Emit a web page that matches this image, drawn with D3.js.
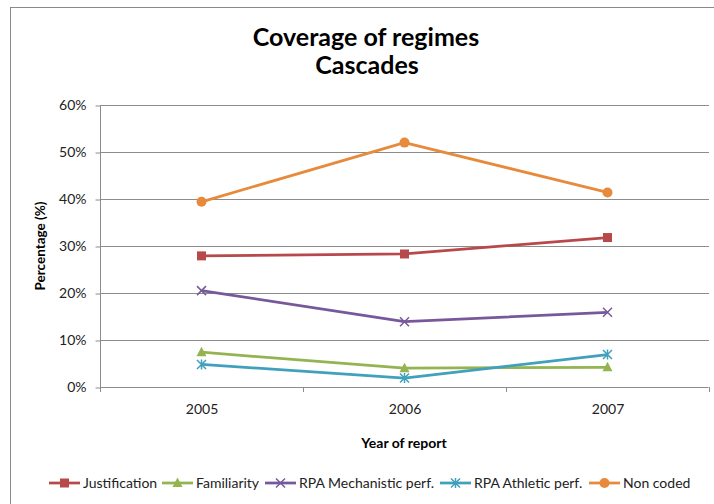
<!DOCTYPE html>
<html>
<head>
<meta charset="utf-8">
<script src="https://cdn.jsdelivr.net/npm/d3@7"></script>
<style>
  body { margin: 0; background: #fff; }
  svg { display: block; font-family: Lato, "Open Sans", sans-serif; }
</style>
</head>
<body>
<div class="canvas"></div>
<script>
const years = ['2005', '2006', '2007'];
const justification = [27.9, 28.3, 31.8];
const familiarity = [7.4, 4.0, 4.2];
const mechanistic = [20.5, 13.9, 15.9];
const athletic = [4.8, 1.9, 6.9];
const nonCoded = [39.4, 52.0, 41.4];
const yTicks = [0, 10, 20, 30, 40, 50, 60];

const series = [
  { name: 'Justification', values: justification, color: '#B8494A', marker: 'square' },
  { name: 'Familiarity', values: familiarity, color: '#94B451', marker: 'triangle' },
  { name: 'RPA Mechanistic perf.', values: mechanistic, color: '#77599B', marker: 'x' },
  { name: 'RPA Athletic perf.', values: athletic, color: '#41A0BC', marker: 'star' },
  { name: 'Non coded', values: nonCoded, color: '#E78A3C', marker: 'circle' }
];

const svg = d3.select('.canvas')
  .append('svg')
  .attr('width', 714)
  .attr('height', 504);

// chart frame
svg.append('rect')
  .attr('x', 10.5).attr('y', 7.5)
  .attr('width', 720).attr('height', 520)
  .attr('fill', 'none')
  .attr('stroke', '#8a8a8a');

svg.append('text')
  .attr('x', 366).attr('y', 46)
  .attr('text-anchor', 'middle')
  .attr('font-size', 25).attr('font-weight', 'bold')
  .text('Coverage of regimes');
svg.append('text')
  .attr('x', 367).attr('y', 74)
  .attr('text-anchor', 'middle')
  .attr('font-size', 25).attr('font-weight', 'bold')
  .text('Cascades');

const x = d3.scaleBand()
  .domain(years)
  .range([100, 709]);

const y = d3.scaleLinear()
  .domain([0, 60])
  .range([387, 105]);

// gridlines
svg.append('g')
  .selectAll('line')
  .data(yTicks.slice(1))
  .enter()
  .append('line')
  .attr('x1', 100).attr('x2', 709)
  .attr('y1', d => Math.round(y(d)) + 0.5)
  .attr('y2', d => Math.round(y(d)) + 0.5)
  .attr('stroke', '#8c8c8c');

const yAxis = svg.append('g')
  .attr('transform', 'translate(100.5,0.5)')
  .call(d3.axisLeft(y).tickValues(yTicks).tickSize(5).tickPadding(9).tickFormat(d => d + '%'));
yAxis.selectAll('line, path').attr('stroke', '#8c8c8c');
yAxis.select('.domain').attr('d', `M0,${y(60)}V${y(0)}`);
yAxis.selectAll('text').attr('font-family', 'Lato, sans-serif').attr('font-size', 14).attr('fill', '#222');

const xAxis = svg.append('g')
  .attr('transform', 'translate(0.5,387.5)')
  .call(d3.axisBottom(x).tickSize(0).tickPadding(17));
xAxis.select('.domain').attr('stroke', '#8c8c8c').attr('d', 'M100,0H708');
xAxis.selectAll('text').attr('font-family', 'Lato, sans-serif').attr('font-size', 14).attr('fill', '#222');

// tick marks between categories
svg.append('g')
  .selectAll('line')
  .data(years.concat(['end']))
  .enter()
  .append('line')
  .attr('x1', (d, i) => Math.round(100 + i * x.step()) + 0.5)
  .attr('x2', (d, i) => Math.round(100 + i * x.step()) + 0.5)
  .attr('y1', 387).attr('y2', 392)
  .attr('stroke', '#8c8c8c');

svg.append('text')
  .attr('transform', 'translate(45,246) rotate(-90)')
  .attr('text-anchor', 'middle')
  .attr('font-size', 13.5).attr('font-weight', 'bold')
  .text('Percentage (%)');

svg.append('text')
  .attr('x', 404).attr('y', 448)
  .attr('text-anchor', 'middle')
  .attr('font-size', 14).attr('font-weight', 'bold')
  .text('Year of report');

function drawMarker(g, type, color) {
  if (type === 'square') {
    g.append('rect').attr('x', -4.5).attr('y', -4.5).attr('width', 9).attr('height', 9).attr('fill', color);
  } else if (type === 'triangle') {
    g.append('path').attr('d', 'M0,-5.5L5,4L-5,4Z').attr('fill', color);
  } else if (type === 'circle') {
    g.append('circle').attr('r', 5).attr('fill', color);
  } else if (type === 'x') {
    g.append('path').attr('d', 'M-4.5,-4.5L4.5,4.5M-4.5,4.5L4.5,-4.5').attr('stroke', color).attr('stroke-width', 1.5);
  } else if (type === 'star') {
    g.append('path').attr('d', 'M-4.5,-4.5L4.5,4.5M-4.5,4.5L4.5,-4.5M0,-5V5').attr('stroke', color).attr('stroke-width', 1.5);
  }
}

const line = d3.line()
  .x((d, i) => x(years[i]) + x.bandwidth() / 2)
  .y(d => y(d));

series.forEach(s => {
  svg.append('path')
    .datum(s.values)
    .attr('d', line)
    .attr('fill', 'none')
    .attr('stroke', s.color)
    .attr('stroke-width', 2.75)
    .attr('stroke-linejoin', 'round');
  s.values.forEach((v, i) => {
    const g = svg.append('g')
      .attr('transform', `translate(${x(years[i]) + x.bandwidth() / 2},${y(v)})`);
    drawMarker(g, s.marker, s.color);
  });
});

// legend
const legendX = [49, 162, 265, 440, 589];
series.forEach((s, i) => {
  const g = svg.append('g').attr('transform', `translate(${legendX[i]},483)`);
  g.append('line').attr('x1', 0).attr('x2', 31).attr('stroke', s.color).attr('stroke-width', 2.75);
  const m = g.append('g').attr('transform', 'translate(15.5,0)');
  drawMarker(m, s.marker, s.color);
  g.append('text')
    .attr('x', 34).attr('y', 5)
    .attr('font-size', 14)
    .attr('fill', '#222')
    .text(s.name);
});
</script>
</body>
</html>
